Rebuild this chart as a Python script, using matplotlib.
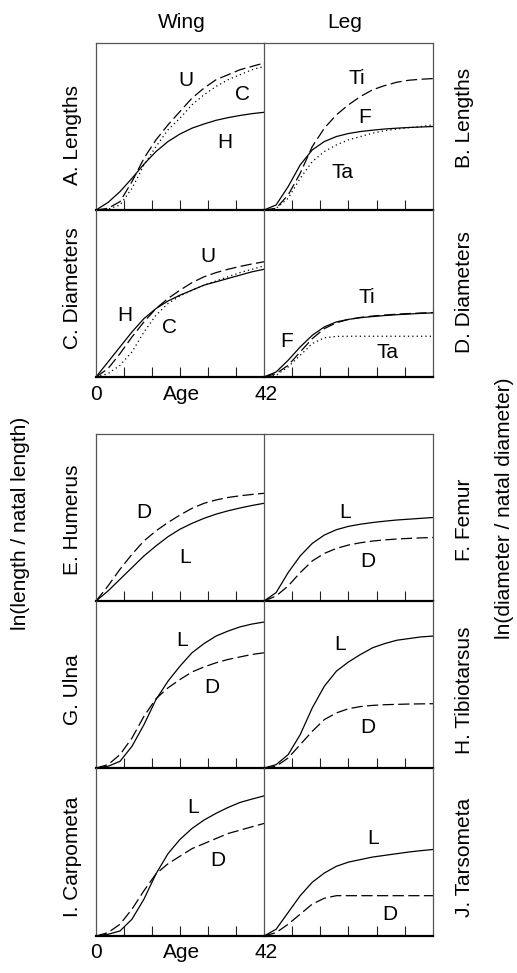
import matplotlib.pyplot as plt

plt.rcParams['font.family'] = ['Liberation Sans', 'DejaVu Sans']

# ages sampled from the curves (days)
age = [0, 3, 6, 9, 12, 15, 18, 21, 24, 27, 30, 33, 36, 39, 42]

# curve heights, as fraction of panel height
# A. wing lengths
a_U = [0, 0.01, 0.05, 0.17, 0.31, 0.42, 0.51, 0.59, 0.67, 0.73, 0.78, 0.81, 0.84, 0.86, 0.88]
a_C = [0, 0.005, 0.03, 0.13, 0.27, 0.38, 0.48, 0.55, 0.63, 0.69, 0.74, 0.78, 0.81, 0.84, 0.86]
a_H = [0, 0.045, 0.11, 0.19, 0.275, 0.35, 0.41, 0.455, 0.49, 0.515, 0.537, 0.553, 0.566, 0.577, 0.585]
# B. leg lengths
b_Ti = [0, 0.01, 0.09, 0.22, 0.38, 0.49, 0.57, 0.63, 0.68, 0.72, 0.745, 0.765, 0.777, 0.783, 0.787]
b_F = [0, 0.03, 0.14, 0.27, 0.36, 0.41, 0.44, 0.458, 0.47, 0.478, 0.485, 0.49, 0.494, 0.497, 0.50]
b_Ta = [0, 0.01, 0.07, 0.19, 0.29, 0.35, 0.39, 0.42, 0.44, 0.46, 0.475, 0.485, 0.493, 0.50, 0.51]
# C. wing diameters
c_U = [0, 0.05, 0.14, 0.24, 0.33, 0.41, 0.47, 0.52, 0.565, 0.60, 0.625, 0.645, 0.662, 0.677, 0.69]
c_H = [0, 0.09, 0.18, 0.27, 0.35, 0.41, 0.455, 0.49, 0.52, 0.55, 0.57, 0.59, 0.61, 0.63, 0.645]
c_C = [0, 0.02, 0.07, 0.15, 0.27, 0.37, 0.44, 0.485, 0.52, 0.55, 0.575, 0.60, 0.625, 0.645, 0.665]
# D. leg diameters
d_F = [0, 0.03, 0.10, 0.18, 0.25, 0.30, 0.33, 0.345, 0.355, 0.362, 0.368, 0.373, 0.377, 0.381, 0.384]
d_Ti = [0, 0.02, 0.07, 0.15, 0.23, 0.29, 0.325, 0.345, 0.357, 0.365, 0.371, 0.376, 0.38, 0.383, 0.386]
d_Ta = [0, 0.01, 0.06, 0.13, 0.20, 0.235, 0.243, 0.244, 0.244, 0.244, 0.244, 0.244, 0.244, 0.244, 0.244]
# E. humerus
e_D = [0, 0.09, 0.19, 0.28, 0.36, 0.42, 0.47, 0.515, 0.555, 0.585, 0.605, 0.62, 0.63, 0.638, 0.645]
e_L = [0, 0.06, 0.13, 0.20, 0.27, 0.33, 0.385, 0.43, 0.465, 0.495, 0.52, 0.54, 0.557, 0.572, 0.585]
# F. femur
f_L = [0, 0.05, 0.17, 0.27, 0.345, 0.395, 0.427, 0.447, 0.46, 0.47, 0.478, 0.485, 0.49, 0.495, 0.50]
f_D = [0, 0.03, 0.09, 0.17, 0.24, 0.285, 0.315, 0.335, 0.349, 0.359, 0.366, 0.371, 0.375, 0.378, 0.38]
# G. ulna
g_L = [0, 0.01, 0.04, 0.13, 0.26, 0.41, 0.52, 0.61, 0.69, 0.745, 0.79, 0.82, 0.845, 0.862, 0.874]
g_D = [0, 0.02, 0.08, 0.18, 0.31, 0.415, 0.48, 0.53, 0.575, 0.605, 0.63, 0.65, 0.665, 0.68, 0.69]
# H. tibiotarsus
h_L = [0, 0.02, 0.08, 0.20, 0.36, 0.49, 0.58, 0.635, 0.68, 0.72, 0.745, 0.765, 0.775, 0.785, 0.79]
h_D = [0, 0.01, 0.06, 0.14, 0.22, 0.29, 0.33, 0.355, 0.368, 0.375, 0.379, 0.381, 0.383, 0.384, 0.385]
# I. carpometacarpus
i_L = [0, 0.01, 0.03, 0.10, 0.22, 0.37, 0.49, 0.575, 0.64, 0.69, 0.73, 0.765, 0.795, 0.815, 0.834]
i_D = [0, 0.02, 0.07, 0.16, 0.27, 0.37, 0.43, 0.475, 0.52, 0.55, 0.58, 0.61, 0.63, 0.65, 0.67]
# J. tarsometatarsus
j_L = [0, 0.04, 0.14, 0.24, 0.32, 0.375, 0.415, 0.44, 0.455, 0.47, 0.48, 0.49, 0.50, 0.508, 0.515]
j_D = [0, 0.02, 0.07, 0.13, 0.19, 0.225, 0.24, 0.24, 0.24, 0.24, 0.24, 0.24, 0.24, 0.24, 0.24]

W, H = 517, 973
fig = plt.figure(figsize=(W / 100, H / 100), dpi=100)

SOLID = dict(color='black', lw=0.9, ls='-')
DASH = dict(color='black', lw=0.9, ls=(0, (9, 3.5)))
DOT = dict(color='black', lw=0.9, ls=(0, (1, 2.5)))
FS = 15

cols = [(96, 264), (264, 433)]
rows_top = [(43, 210), (210, 377)]
rows_bot = [(434, 601), (601, 768), (768, 936)]

panels = [
    # (col, (y0, y1), first row?, curves, labels)
    (0, rows_top[0], True, [(a_U, DASH), (a_C, DOT), (a_H, SOLID)],
     [('U', 0.536, 0.778), ('C', 0.875, 0.689), ('H', 0.768, 0.407)]),
    (1, rows_top[0], True, [(b_Ti, DASH), (b_F, SOLID), (b_Ta, DOT)],
     [('Ti', 0.55, 0.79), ('F', 0.598, 0.551), ('Ta', 0.462, 0.222)]),
    (0, rows_top[1], False, [(c_U, DASH), (c_H, SOLID), (c_C, DOT)],
     [('U', 0.667, 0.719), ('H', 0.173, 0.371), ('C', 0.44, 0.299)]),
    (1, rows_top[1], False, [(d_F, SOLID), (d_Ti, DASH), (d_Ta, DOT)],
     [('Ti', 0.609, 0.479), ('F', 0.136, 0.21), ('Ta', 0.728, 0.144)]),
    (0, rows_bot[0], True, [(e_D, DASH), (e_L, SOLID)],
     [('D', 0.286, 0.527), ('L', 0.53, 0.263)]),
    (1, rows_bot[0], True, [(f_L, SOLID), (f_D, DASH)],
     [('L', 0.479, 0.527), ('D', 0.615, 0.234)]),
    (0, rows_bot[1], False, [(g_L, SOLID), (g_D, DASH)],
     [('L', 0.512, 0.766), ('D', 0.69, 0.485)]),
    (1, rows_bot[1], False, [(h_L, SOLID), (h_D, DASH)],
     [('L', 0.45, 0.737), ('D', 0.615, 0.24)]),
    (0, rows_bot[2], False, [(i_L, SOLID), (i_D, DASH)],
     [('L', 0.577, 0.766), ('D', 0.726, 0.449)]),
    (1, rows_bot[2], False, [(j_L, SOLID), (j_D, DASH)],
     [('L', 0.645, 0.581), ('D', 0.746, 0.126)]),
]

for col, (y0, y1), first, curves, labels in panels:
    x0, x1 = cols[col]
    ax = fig.add_axes([x0 / W, 1 - y1 / H, (x1 - x0) / W, (y1 - y0) / H])
    ax.patch.set_visible(False)
    ax.set_xlim(0, 42)
    ax.set_ylim(0, 1)
    for vals, style in curves:
        ax.plot(age, vals, clip_on=False, solid_joinstyle='round', **style)
    for txt, xf, yf in labels:
        ax.text(xf, yf, txt, transform=ax.transAxes, fontsize=FS,
                ha='center', va='center')
    for s in ['left', 'right', 'top']:
        ax.spines[s].set_color('#555555')
        ax.spines[s].set_linewidth(0.9)
    ax.spines['top'].set_visible(first)
    ax.spines['right'].set_visible(col == 1)
    ax.spines['bottom'].set_color('black')
    ax.spines['bottom'].set_linewidth(1.6)
    ax.set_xticks([7, 14, 21, 28, 35])
    ax.set_yticks([])
    ax.tick_params(axis='x', direction='in', length=7, width=0.8,
                   color='#222222', labelbottom=False)


def ftext(x, y, s, **kw):
    fig.text(x / W, 1 - y / H, s, fontsize=FS, ha='center', va='center', **kw)


ftext(182, 22, 'Wing')
ftext(345, 22, 'Leg')
for yy in (394, 953):
    ftext(96, yy, '0')
    ftext(182, yy, 'Age')
    ftext(266, yy, '42')

left_names = [('A. Lengths', 135), ('C. Diameters', 288), ('E. Humerus', 520),
              ('G. Ulna', 690), ('I. Carpometa', 857)]
right_names = [('B. Lengths', 118), ('D. Diameters', 292), ('F. Femur', 520),
               ('H. Tibiotarsus', 690), ('J. Tarsometa', 857)]
for s, yy in left_names:
    ftext(72, yy, s, rotation=90)
for s, yy in right_names:
    ftext(465, yy, s, rotation=90)

ftext(21, 523, 'ln(length / natal length)', rotation=90)
ftext(505, 508, 'ln(diameter / natal diameter)', rotation=90)

fig.savefig('out.png', dpi=100)
